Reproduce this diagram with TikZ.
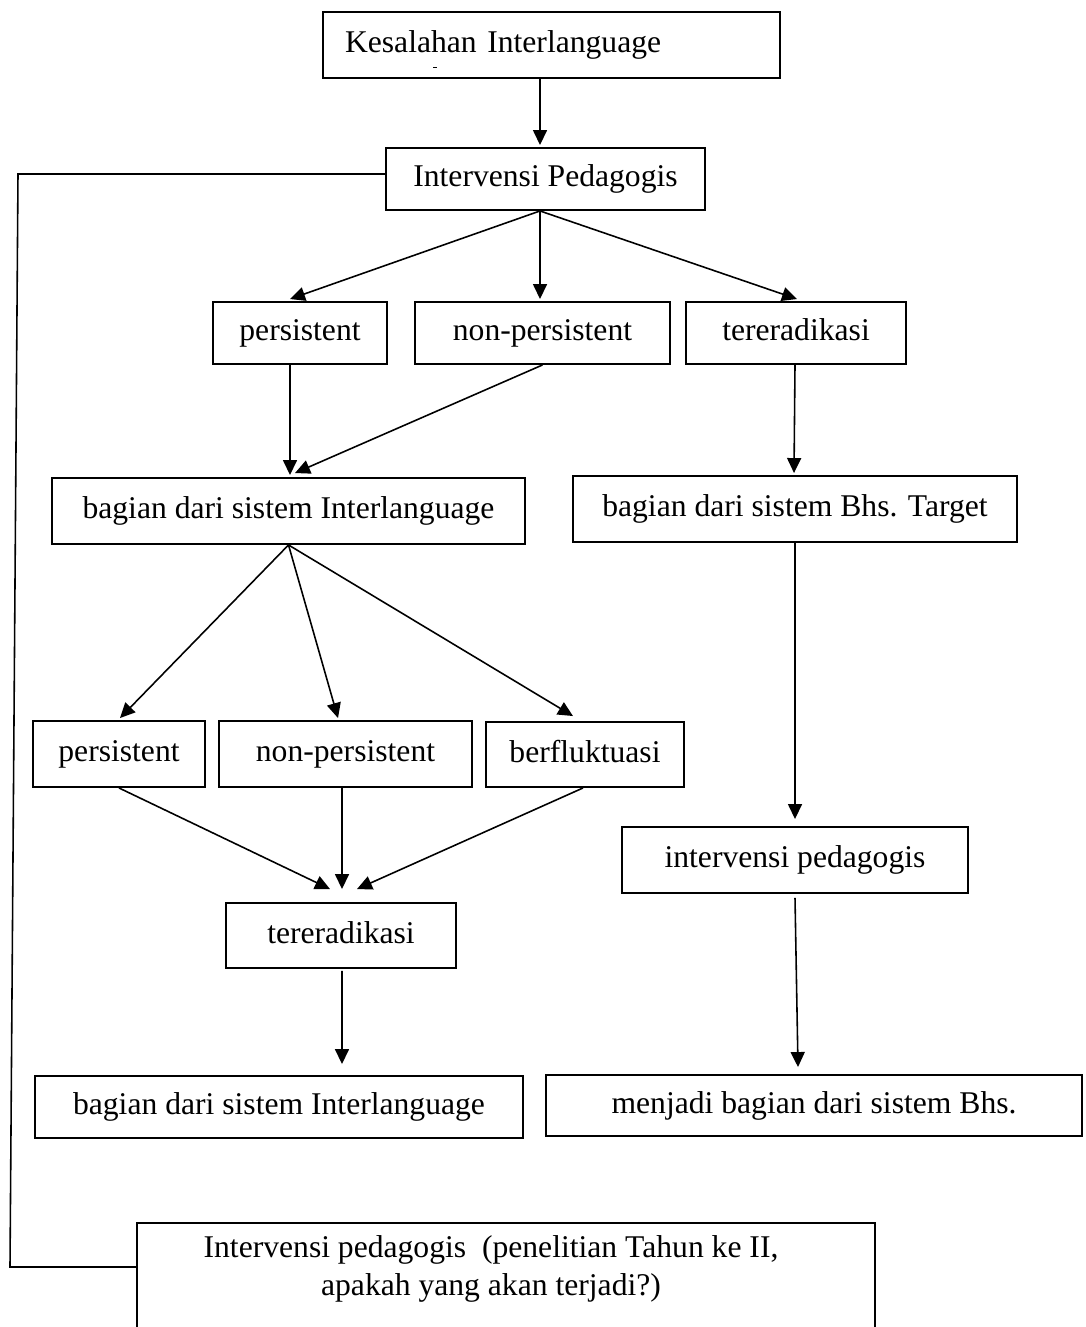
\documentclass[tikz,border=0pt]{standalone}
\usepackage{fontspec}
\setmainfont{Liberation Serif}
\usetikzlibrary{arrows.meta}
\begin{document}
\begin{tikzpicture}[x=0.02cm,y=-0.02cm,
  box/.style={draw, line width=1.1pt, inner sep=0pt, align=center,
              font=\fontsize{18}{21.6}\selectfont},
  one/.style={box, text height=12.6pt, text depth=4pt},
  arr/.style={line width=0.9pt, -{Triangle[length=0.3cm,width=0.28cm]}},
  link/.style={line width=0.9pt}]
\useasboundingbox (0,0) rectangle (1085,1327);

% nodes
\node[one, text width=8.26cm, align=left, inner xsep=0.44cm, minimum height=1.32cm] (k) at (551.5,45) {Kesalahan Interlanguage};
\node[one, minimum width=6.38cm, minimum height=1.24cm] (ip) at (545.5,179) {Intervensi Pedagogis};
\node[one, minimum width=3.48cm, minimum height=1.24cm] (p1) at (300,333) {persistent};
\node[one, minimum width=5.10cm, minimum height=1.24cm] (np1) at (542.5,333) {non-persistent};
\node[one, minimum width=4.40cm, minimum height=1.24cm] (t1) at (796,333) {tereradikasi};
\node[one, minimum width=9.46cm, minimum height=1.32cm] (bi1) at (288.5,511) {bagian dari sistem Interlanguage};
\node[one, minimum width=8.88cm, minimum height=1.32cm] (bt) at (795,509) {bagian dari sistem Bhs. Target};
\node[one, minimum width=3.44cm, minimum height=1.32cm] (p2) at (119,754) {persistent};
\node[one, minimum width=5.06cm, minimum height=1.32cm] (np2) at (345.5,754) {non-persistent};
\node[one, minimum width=3.96cm, minimum height=1.30cm] (bf) at (585,754.5) {berfluktuasi};
\node[one, minimum width=4.60cm, minimum height=1.30cm] (t2) at (341,935.5) {tereradikasi};
\node[one, minimum width=6.92cm, minimum height=1.32cm] (ipd) at (795,860) {intervensi pedagogis};
\node[one, minimum width=9.76cm, minimum height=1.24cm] (bi2) at (279,1107) {bagian dari sistem Interlanguage};
\node[one, minimum width=10.72cm, minimum height=1.22cm] (mb) at (814,1105.5) {menjadi bagian dari sistem Bhs.};
\node[box, anchor=north, inner xsep=0pt, inner ysep=0.26cm] (ip2) at (506,1222)
  {\parbox[c][2.6cm][t]{14.16cm}{\centering Intervensi pedagogis\ \ (penelitian Tahun ke II,\\ apakah yang akan terjadi?)}\hspace*{0.6cm}};

% small stray mark in the top box
\draw[line width=0.6pt] (433,67.5) -- (437,67.5);

% connectors
\draw[arr] ([xshift=-0.23cm]k.south) -- ([xshift=-0.11cm,yshift=0.04cm]ip.north);
\draw[arr] ([xshift=-0.11cm]ip.south) -- ([xshift=-0.2cm,yshift=0.04cm]p1.north);
\draw[arr] ([xshift=-0.11cm]ip.south) -- ([xshift=-0.05cm,yshift=0.04cm]np1.north);
\draw[arr] ([xshift=-0.11cm]ip.south) -- ([xshift=0.02cm,yshift=0.04cm]t1.north);
\draw[arr] ([xshift=-0.2cm]p1.south) -- ([xshift=0.03cm,yshift=0.04cm]bi1.north);
\draw[arr] (np1.south) -- ([xshift=0.13cm,yshift=0.08cm]bi1.north);
\draw[arr] ([xshift=-0.02cm]t1.south) -- ([xshift=-0.02cm,yshift=0.04cm]bt.north);
\draw[arr] (bi1.south) -- ([xshift=0.02cm,yshift=0.04cm]p2.north);
\draw[arr] (bi1.south) -- ([xshift=-0.15cm,yshift=0.04cm]np2.north);
\draw[arr] (bi1.south) -- ([xshift=-0.24cm,yshift=0.1cm]bf.north);
\draw[arr] (p2.south) -- ([xshift=-0.22cm,yshift=0.26cm]t2.north);
\draw[arr] ([xshift=-0.07cm]np2.south) -- ([xshift=0.02cm,yshift=0.26cm]t2.north);
\draw[arr] ([xshift=-0.04cm]bf.south) -- ([xshift=0.32cm,yshift=0.26cm]t2.north);
\draw[arr] ([xshift=0.02cm,yshift=-0.04cm]t2.south) -- ([xshift=1.26cm,yshift=0.22cm]bi2.north);
\draw[arr] (bt.south) -- ([yshift=0.14cm]ipd.north);
\draw[arr] ([yshift=-0.08cm]ipd.south) -- ([xshift=-0.32cm,yshift=0.14cm]mb.north);

% feedback line on the left
\coordinate (c1) at (18,174);
\coordinate (c2) at (10,1267);
\draw[link] ([yshift=0.1cm]ip.west) -- (c1) -- (c2) -- (c2 -| ip2.west);
\end{tikzpicture}
\end{document}
